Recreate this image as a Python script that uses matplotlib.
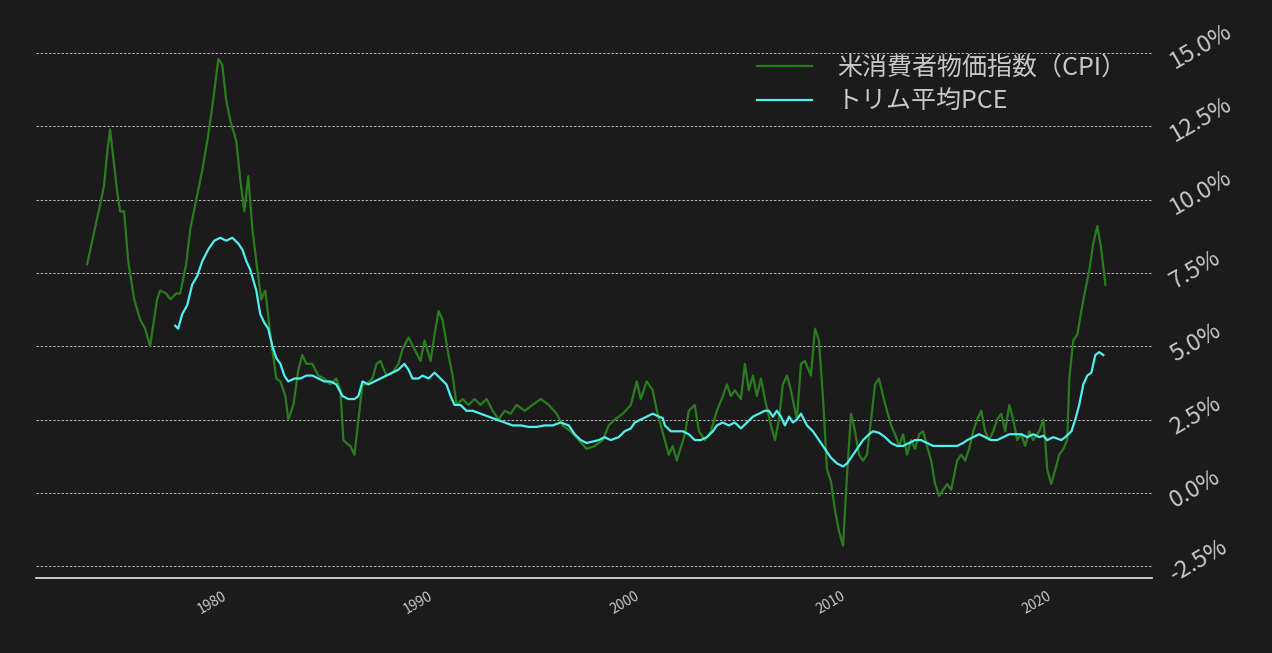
import matplotlib
matplotlib.use("Agg")
import matplotlib.pyplot as plt
from matplotlib.ticker import FuncFormatter

cpi_year = [1973.45, 1974.13, 1974.27, 1974.42, 1974.56, 1974.90, 1975.05, 1975.24, 1975.44, 1975.73,
            1976.02, 1976.26, 1976.50, 1976.84, 1976.99, 1977.28, 1977.48, 1977.77, 1977.96, 1978.25,
            1978.45, 1978.74, 1979.03, 1979.32, 1979.56, 1979.81, 1980.00, 1980.19, 1980.39, 1980.68,
            1980.87, 1981.07, 1981.26, 1981.46, 1981.65, 1981.89, 1982.09, 1982.33, 1982.62, 1982.82,
            1983.06, 1983.20, 1983.45, 1983.69, 1983.88, 1984.08, 1984.37, 1984.66, 1984.95, 1985.24,
            1985.53, 1985.73, 1985.87, 1986.02, 1986.21, 1986.41, 1986.60, 1986.80, 1986.99, 1987.28,
            1987.48, 1987.67, 1987.96, 1988.25, 1988.54, 1988.74, 1989.03, 1989.32, 1989.61, 1989.81,
            1990.10, 1990.29, 1990.49, 1990.68, 1990.97, 1991.17, 1991.36, 1991.65, 1991.94, 1992.23,
            1992.52, 1992.82, 1993.11, 1993.40, 1993.69, 1993.98, 1994.27, 1994.66, 1995.05, 1995.44,
            1995.83, 1996.21, 1996.50, 1996.89, 1997.28, 1997.67, 1998.06, 1998.45, 1998.74, 1999.03,
            1999.42, 1999.81, 2000.10, 2000.29, 2000.58, 2000.87, 2001.07, 2001.46, 2001.65, 2001.84,
            2002.04, 2002.43, 2002.62, 2002.91, 2003.11, 2003.40, 2003.69, 2003.98, 2004.27, 2004.47,
            2004.66, 2004.85, 2005.15, 2005.34, 2005.53, 2005.73, 2005.92, 2006.12, 2006.31, 2006.60,
            2006.80, 2006.99, 2007.18, 2007.38, 2007.57, 2007.86, 2008.06, 2008.25, 2008.54, 2008.74,
            2008.93, 2009.13, 2009.32, 2009.51, 2009.71, 2009.90, 2010.10, 2010.29, 2010.49, 2010.68,
            2010.87, 2011.07, 2011.26, 2011.46, 2011.65, 2011.84, 2012.04, 2012.23, 2012.43, 2012.62,
            2012.82, 2013.01, 2013.20, 2013.40, 2013.59, 2013.79, 2013.98, 2014.17, 2014.37, 2014.56,
            2014.76, 2014.95, 2015.15, 2015.34, 2015.63, 2015.83, 2016.02, 2016.21, 2016.41, 2016.60,
            2016.80, 2016.99, 2017.18, 2017.38, 2017.57, 2017.77, 2017.96, 2018.16, 2018.35, 2018.54,
            2018.74, 2018.93, 2019.13, 2019.32, 2019.61, 2019.81, 2019.90, 2020.00, 2020.19, 2020.39,
            2020.58, 2020.78, 2020.97, 2021.07, 2021.26, 2021.46, 2021.65, 2021.84, 2022.04, 2022.23,
            2022.43, 2022.62, 2022.82]
cpi_val = [7.8, 10.0, 10.5, 11.6, 12.4, 10.3, 9.6, 9.6, 7.9, 6.6,
           5.9, 5.6, 5.0, 6.6, 6.9, 6.8, 6.6, 6.8, 6.8, 7.8,
           9.0, 10.0, 11.0, 12.2, 13.4, 14.8, 14.6, 13.4, 12.7, 12.0,
           10.7, 9.6, 10.8, 9.0, 7.9, 6.6, 6.9, 5.4, 3.9, 3.8,
           3.3, 2.5, 3.0, 4.2, 4.7, 4.4, 4.4, 4.0, 3.9, 3.7,
           3.9, 3.5, 1.8, 1.7, 1.6, 1.3, 2.5, 3.7, 3.7, 3.9,
           4.4, 4.5, 4.0, 4.1, 4.4, 4.9, 5.3, 4.9, 4.5, 5.2,
           4.5, 5.4, 6.2, 5.9, 4.7, 4.0, 3.0, 3.2, 3.0, 3.2,
           3.0, 3.2, 2.8, 2.5, 2.8, 2.7, 3.0, 2.8, 3.0, 3.2,
           3.0, 2.7, 2.3, 2.1, 1.8, 1.5, 1.6, 1.8, 2.3, 2.5,
           2.7, 3.0, 3.8, 3.2, 3.8, 3.5, 2.8, 1.8, 1.3, 1.6,
           1.1, 2.0, 2.8, 3.0, 2.1, 1.8, 2.1, 2.8, 3.3, 3.7,
           3.3, 3.5, 3.2, 4.4, 3.5, 4.0, 3.3, 3.9, 3.2, 2.3,
           1.8, 2.5, 3.7, 4.0, 3.5, 2.5, 4.4, 4.5, 4.0, 5.6,
           5.2, 3.2, 0.8, 0.4, -0.6, -1.3, -1.8, 0.6, 2.7, 2.1,
           1.3, 1.1, 1.3, 2.5, 3.7, 3.9, 3.3, 2.8, 2.3, 2.0,
           1.6, 2.0, 1.3, 1.8, 1.5, 2.0, 2.1, 1.6, 1.1, 0.3,
           -0.1, 0.1, 0.3, 0.1, 1.1, 1.3, 1.1, 1.5, 2.1, 2.5,
           2.8, 2.1, 1.8, 2.1, 2.5, 2.7, 2.1, 3.0, 2.5, 1.8,
           2.0, 1.6, 2.1, 1.8, 2.1, 2.5, 1.8, 0.8, 0.3, 0.8,
           1.3, 1.5, 1.8, 3.9, 5.2, 5.4, 6.2, 6.9, 7.6, 8.5,
           9.1, 8.3, 7.1]

pce_year = [1977.72, 1977.86, 1978.06, 1978.30, 1978.54, 1978.79, 1979.03, 1979.32, 1979.61, 1979.90,
            1980.19, 1980.49, 1980.78, 1980.97, 1981.17, 1981.36, 1981.65, 1981.84, 1982.04, 1982.23,
            1982.43, 1982.62, 1982.82, 1983.01, 1983.20, 1983.50, 1983.79, 1984.08, 1984.37, 1984.66,
            1984.95, 1985.24, 1985.53, 1985.83, 1986.12, 1986.41, 1986.60, 1986.80, 1987.09, 1987.38,
            1987.67, 1987.96, 1988.25, 1988.54, 1988.83, 1989.03, 1989.22, 1989.51, 1989.71, 1990.00,
            1990.29, 1990.58, 1990.87, 1991.07, 1991.26, 1991.55, 1991.84, 1992.14, 1992.52, 1992.91,
            1993.30, 1993.69, 1994.08, 1994.47, 1994.85, 1995.24, 1995.63, 1996.02, 1996.41, 1996.80,
            1997.09, 1997.38, 1997.67, 1997.96, 1998.25, 1998.54, 1998.83, 1999.22, 1999.51, 1999.81,
            2000.00, 2000.29, 2000.58, 2000.87, 2001.17, 2001.36, 2001.46, 2001.75, 2002.04, 2002.33,
            2002.62, 2002.91, 2003.20, 2003.50, 2003.79, 2003.98, 2004.27, 2004.56, 2004.85, 2005.15,
            2005.44, 2005.73, 2006.02, 2006.31, 2006.50, 2006.70, 2006.89, 2007.09, 2007.28, 2007.48,
            2007.67, 2007.86, 2008.06, 2008.35, 2008.64, 2008.93, 2009.22, 2009.51, 2009.81, 2010.10,
            2010.29, 2010.49, 2010.78, 2011.07, 2011.36, 2011.55, 2011.84, 2012.14, 2012.43, 2012.72,
            2013.01, 2013.30, 2013.59, 2013.88, 2014.17, 2014.47, 2014.85, 2015.24, 2015.63, 2015.92,
            2016.12, 2016.41, 2016.70, 2016.99, 2017.28, 2017.57, 2017.86, 2018.16, 2018.45, 2018.74,
            2019.03, 2019.32, 2019.61, 2019.81, 2020.00, 2020.29, 2020.68, 2020.87, 2021.17, 2021.36,
            2021.55, 2021.75, 2021.94, 2022.14, 2022.33, 2022.52, 2022.72]
pce_val = [5.7, 5.6, 6.1, 6.4, 7.1, 7.4, 7.9, 8.3, 8.6, 8.7,
           8.6, 8.7, 8.5, 8.3, 7.9, 7.6, 6.9, 6.1, 5.8, 5.6,
           5.0, 4.6, 4.4, 4.0, 3.8, 3.9, 3.9, 4.0, 4.0, 3.9,
           3.8, 3.8, 3.7, 3.3, 3.2, 3.2, 3.3, 3.8, 3.7, 3.8,
           3.9, 4.0, 4.1, 4.2, 4.4, 4.2, 3.9, 3.9, 4.0, 3.9,
           4.1, 3.9, 3.7, 3.3, 3.0, 3.0, 2.8, 2.8, 2.7, 2.6,
           2.5, 2.4, 2.3, 2.3, 2.25, 2.25, 2.3, 2.3, 2.4, 2.3,
           2.0, 1.8, 1.7, 1.75, 1.8, 1.9, 1.8, 1.9, 2.1, 2.2,
           2.4, 2.5, 2.6, 2.7, 2.6, 2.55, 2.3, 2.1, 2.1, 2.1,
           2.0, 1.8, 1.8, 1.9, 2.1, 2.3, 2.4, 2.3, 2.4, 2.2,
           2.4, 2.6, 2.7, 2.8, 2.8, 2.6, 2.8, 2.6, 2.3, 2.6,
           2.4, 2.5, 2.7, 2.3, 2.1, 1.8, 1.5, 1.2, 1.0, 0.9,
           1.0, 1.2, 1.5, 1.8, 2.0, 2.1, 2.05, 1.9, 1.7, 1.6,
           1.6, 1.7, 1.8, 1.8, 1.7, 1.6, 1.6, 1.6, 1.6, 1.7,
           1.8, 1.9, 2.0, 1.9, 1.8, 1.8, 1.9, 2.0, 2.0, 2.0,
           1.9, 2.0, 1.9, 1.95, 1.8, 1.9, 1.8, 1.9, 2.1, 2.5,
           3.0, 3.7, 4.0, 4.1, 4.7, 4.8, 4.7]

x_ticks = [1980, 1990, 2000, 2010, 2020]
y_ticks = [-2.5, 0.0, 2.5, 5.0, 7.5, 10.0, 12.5, 15.0]

BG = "#1b1b1b"
TXT = "#c8c8c8"
plt.rcParams["font.family"] = ["Noto Sans CJK JP", "DejaVu Sans"]

fig = plt.figure(figsize=(12.72, 6.53), dpi=100, facecolor=BG)
ax = fig.add_axes([0.028, 0.115, 0.878, 0.824], facecolor=BG)

ax.plot(cpi_year, cpi_val, color="#2a7d1e", lw=1.6, label="米消費者物価指数（CPI）")
ax.plot(pce_year, pce_val, color="#50f0ee", lw=1.6, label="トリム平均PCE")

ax.set_xlim(1970.95, 2025.1)
ax.set_ylim(-2.9, 15.45)
ax.set_yticks(y_ticks)
ax.set_xticks(x_ticks)
ax.yaxis.tick_right()
ax.yaxis.set_major_formatter(FuncFormatter(lambda v, p: f"{v:.1f}%"))
ax.grid(axis="y", color="#d0d0d0", ls=(0, (3, 2)), lw=0.6)
for s in ["top", "left", "right"]:
    ax.spines[s].set_visible(False)
ax.spines["bottom"].set_color("#e8e8e8")
ax.spines["bottom"].set_linewidth(1.2)
ax.tick_params(axis="both", length=0)
ax.tick_params(axis="y", labelsize=17, labelcolor=TXT, pad=10)
ax.tick_params(axis="x", labelsize=10, labelcolor=TXT, pad=8)
for t in ax.get_yticklabels():
    t.set_rotation(30); t.set_va("top"); t.set_ha("left"); t.set_rotation_mode("anchor")
for t in ax.get_xticklabels():
    t.set_rotation(30); t.set_ha("right"); t.set_rotation_mode("anchor")

leg = ax.legend(loc="upper right", bbox_to_anchor=(0.99, 1.0), frameon=False, fontsize=18,
                labelcolor=TXT, handlelength=2.2, handletextpad=1.0, borderaxespad=0.2,
                labelspacing=0.3)

fig.savefig("out.png", dpi=100, facecolor=BG)
